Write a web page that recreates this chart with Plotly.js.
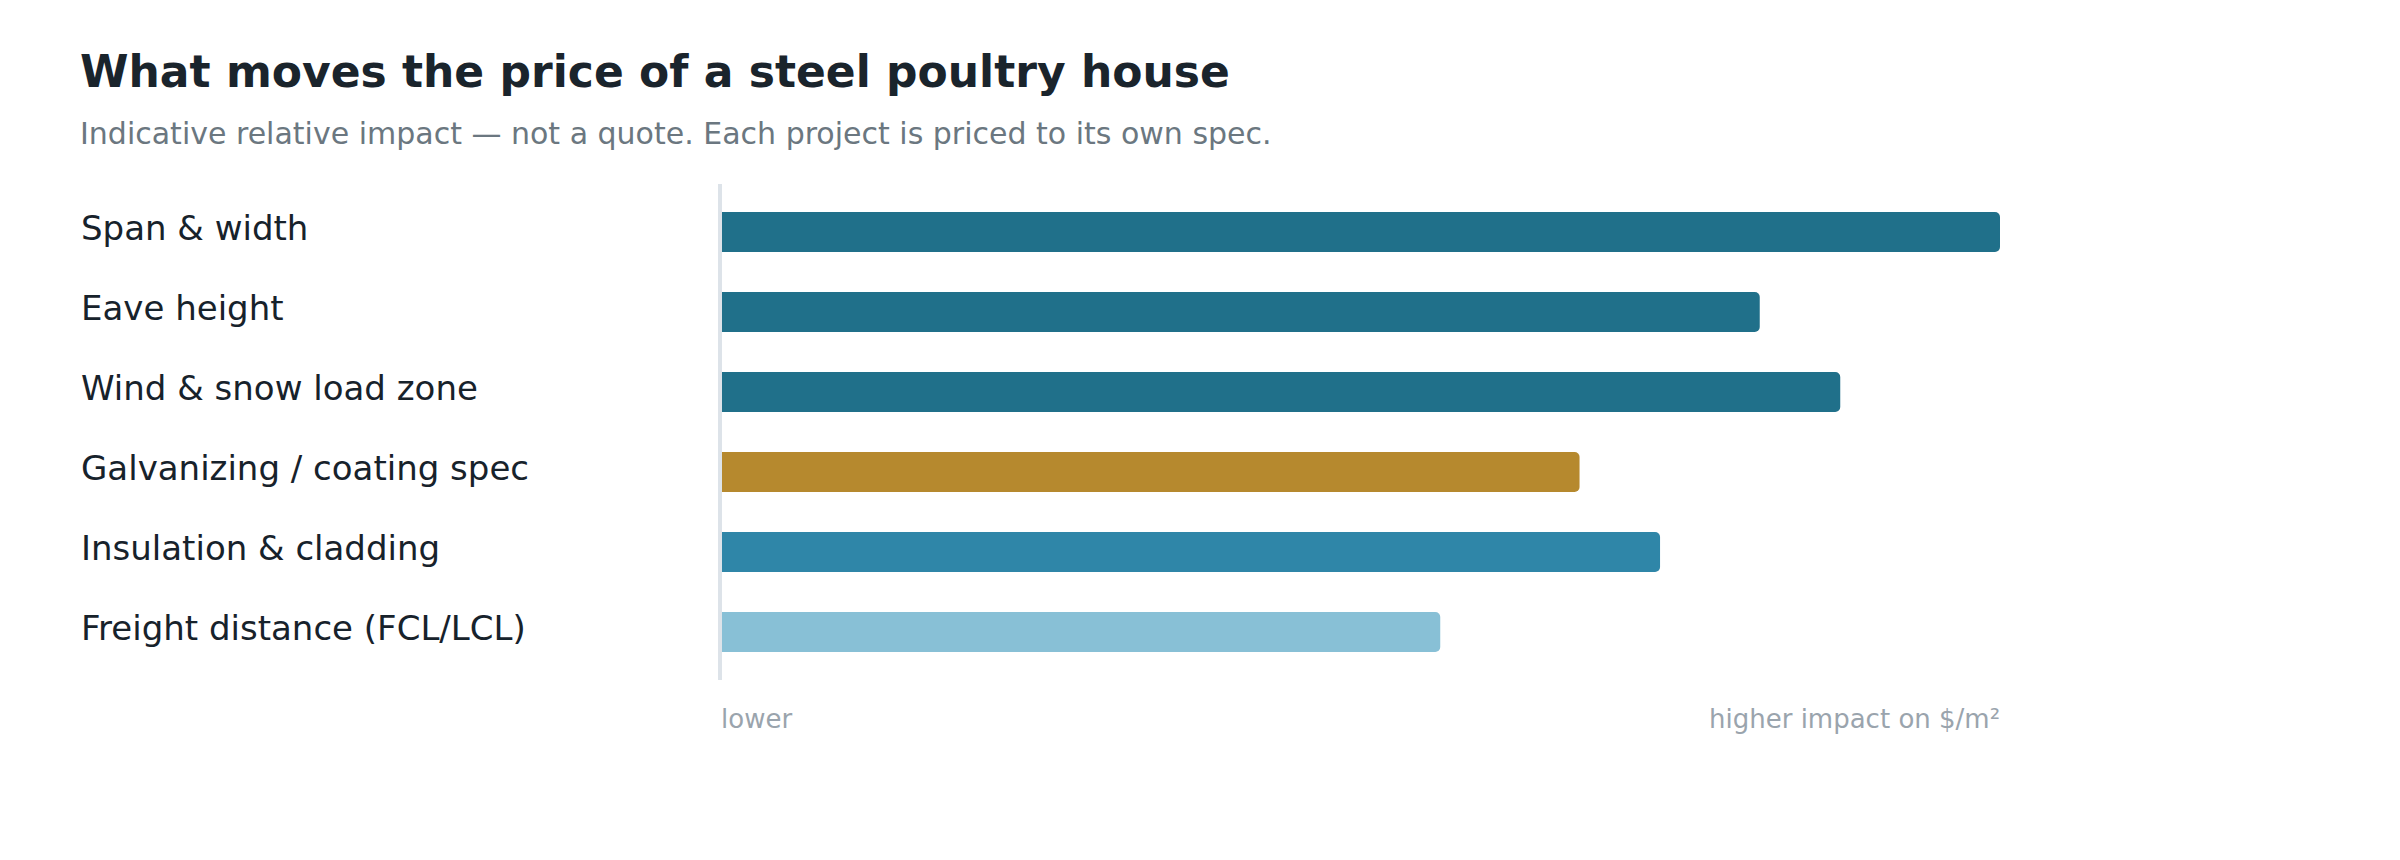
<!DOCTYPE html>
<html>
<head>
<meta charset="utf-8">
<script src="https://cdn.plot.ly/plotly-3.0.1.min.js"></script>
<style>html,body{margin:0;padding:0;background:#fff;}#chart{width:2400px;height:860px;}</style>
</head>
<body>
<div id="chart"></div>
<script>
const categories = ["Span & width", "Eave height", "Wind & snow load zone", "Galvanizing / coating spec", "Insulation & cladding", "Freight distance (FCL/LCL)"];
const impact = [100, 81.2, 87.5, 67.1, 73.4, 56.2];
const barColors = ["#20708a", "#20708a", "#20708a", "#b6892e", "#2f86a8", "#88c0d6"];
const axisLow = "lower";
const axisHigh = "higher impact on $/m²";
const titleText = "What moves the price of a steel poultry house";
const subtitleText = "Indicative relative impact — not a quote. Each project is priced to its own spec.";

const FONT = "DejaVu Sans, Verdana, sans-serif";
const W = 2400, H = 860;
const mL = 722, mR = 400, mT = 184, mB = 180;
const plotW = W - mL - mR, plotH = H - mT - mB;
const labelX = (80 - mL) / plotW;

const trace = {
  type: "bar",
  orientation: "h",
  y: categories,
  x: impact,
  width: 0.5,
  marker: { color: barColors, cornerradius: 5, line: { width: 0 } },
  hoverinfo: "skip"
};

const annotations = categories.map(c => ({
  text: c, xref: "paper", x: labelX, xanchor: "left", xshift: -1,
  yref: "y", y: c, yanchor: "middle", yshift: 4, showarrow: false,
  font: { family: FONT, size: 34, color: "#17222b" }
}));
annotations.push({
  text: axisLow, xref: "x", x: 0, xanchor: "left", xshift: -3,
  yref: "paper", y: -(719 - 680) / plotH, yanchor: "middle", showarrow: false,
  font: { family: FONT, size: 26, color: "#9aa4ad" }
});
annotations.push({
  text: axisHigh, xref: "x", x: 100, xanchor: "right", xshift: 2,
  yref: "paper", y: -(719 - 680) / plotH, yanchor: "middle", showarrow: false,
  font: { family: FONT, size: 26, color: "#9aa4ad" }
});
annotations.push({
  text: subtitleText, xref: "paper", x: labelX, xanchor: "left", xshift: -2,
  yref: "paper", y: 1 + (184 - 133) / plotH, yanchor: "middle", showarrow: false,
  font: { family: FONT, size: 30, color: "#6b7780" }
});

const layout = {
  width: W, height: H,
  margin: { l: mL, r: mR, t: mT, b: mB, pad: 0 },
  paper_bgcolor: "#ffffff", plot_bgcolor: "rgba(0,0,0,0)",
  font: { family: FONT },
  title: {
    text: "<b>" + titleText + "</b>",
    xref: "container", yref: "container",
    x: 80 / W, xanchor: "left",
    y: 1 - 72 / H, yanchor: "middle",
    font: { family: FONT, size: 44, color: "#1a242c" }
  },
  showlegend: false,
  bargap: 0.5,
  xaxis: { range: [0, 100], showgrid: false, zeroline: false, showticklabels: false, showline: false, ticks: "", fixedrange: true },
  yaxis: { type: "category", range: [5.6, -0.6], showgrid: false, zeroline: false, showticklabels: false, showline: false, ticks: "", fixedrange: true },
  shapes: [{
    type: "line", layer: "below", xref: "paper", x0: -2 / plotW, x1: -2 / plotW,
    yref: "paper", y0: 0, y1: 1,
    line: { color: "#dde3e9", width: 4 }
  }],
  annotations: annotations
};

Plotly.newPlot("chart", [trace], layout, { displayModeBar: false, staticPlot: true });
</script>
</body>
</html>
